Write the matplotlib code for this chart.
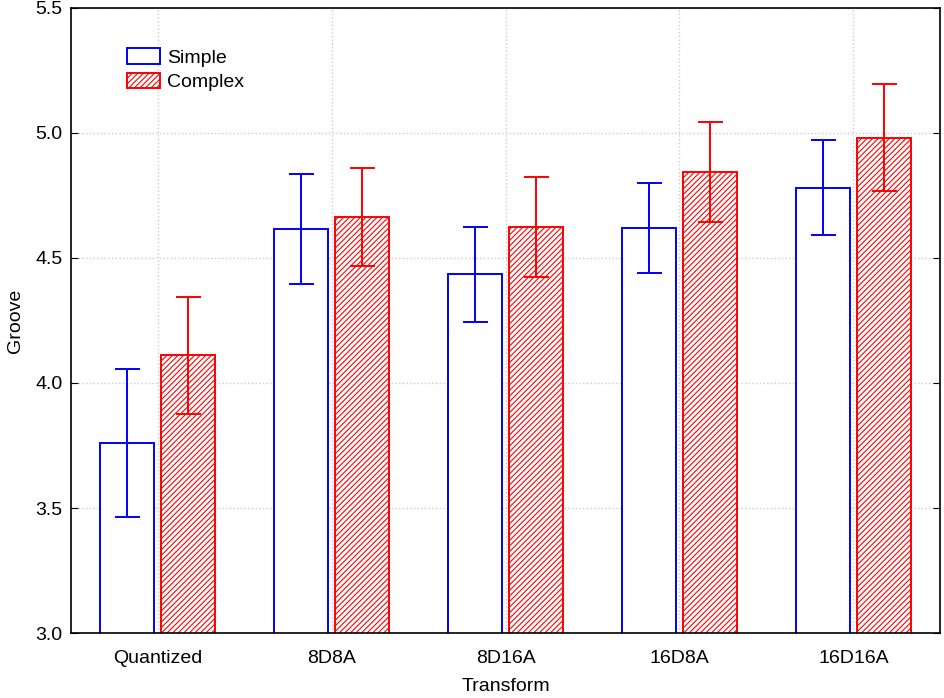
import matplotlib.pyplot as plt
import numpy as np

plt.rcParams['font.family'] = ['Liberation Sans', 'DejaVu Sans']
plt.rcParams['hatch.linewidth'] = 0.8

# data
transforms = ['Quantized', '8D8A', '8D16A', '16D8A', '16D16A']
simple_mean = [3.76, 4.615, 4.435, 4.62, 4.78]
simple_err = [0.295, 0.22, 0.19, 0.18, 0.19]
complex_mean = [4.11, 4.663, 4.625, 4.843, 4.98]
complex_err = [0.233, 0.195, 0.2, 0.2, 0.213]

x = np.arange(len(transforms))
w = 0.31
off = 0.175

fig = plt.figure(figsize=(9.45, 6.98), dpi=100)
ax = fig.add_axes([0.075, 0.093, 0.92, 0.896])

ax.bar(x - off, simple_mean, w, bottom=0, facecolor='white', edgecolor='blue',
       linewidth=1.4, label='Simple', zorder=2)
ax.errorbar(x - off, simple_mean, yerr=simple_err, fmt='none', ecolor='blue',
            elinewidth=1.4, capsize=9, capthick=1.4, zorder=3)

ax.bar(x + off, complex_mean, w, bottom=0, facecolor='white', edgecolor='red',
       hatch='//////', linewidth=1.4, label='Complex', zorder=2)
ax.errorbar(x + off, complex_mean, yerr=complex_err, fmt='none', ecolor='red',
            elinewidth=1.4, capsize=9, capthick=1.4, zorder=3)

ax.set_xlim(-0.5, len(transforms) - 0.5)
ax.set_ylim(3.0, 5.5)
ax.set_yticks(np.arange(3.0, 5.51, 0.5))
ax.set_yticklabels([f'{v:.1f}' for v in np.arange(3.0, 5.51, 0.5)])
ax.set_xticks(x)
ax.set_xticklabels(transforms)

ax.grid(True, color='#cccccc', linestyle=':', linewidth=1, zorder=0)
ax.set_axisbelow(True)

ax.tick_params(axis='y', direction='in', right=True, length=5, labelsize=14, pad=6)
ax.tick_params(axis='x', length=0, labelsize=14, pad=12)
for s in ax.spines.values():
    s.set_linewidth(1.2)

ax.set_xlabel('Transform', fontsize=14, labelpad=8)
ax.set_ylabel('Groove', fontsize=14, labelpad=8)

leg = ax.legend(loc='upper left', bbox_to_anchor=(0.045, 0.963), frameon=False,
                fontsize=14, handlelength=1.65, handleheight=0.85,
                handletextpad=0.4, labelspacing=0.3)

fig.savefig('out.png', dpi=100)
